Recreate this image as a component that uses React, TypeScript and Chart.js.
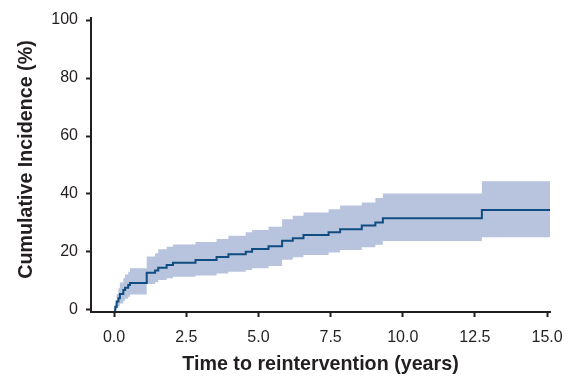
import React, { useEffect, useRef } from "react";
import { Chart, registerables } from "chart.js";

Chart.register(...registerables);

// Event times (years) and cumulative incidence (%) with 95% CI
const times = [0, 0.04, 0.09, 0.15, 0.2, 0.32, 0.38, 0.49, 0.55, 1.13, 1.42, 1.53, 1.82, 2.04, 2.82, 3.55, 3.96, 4.56, 4.78, 5.35, 5.82, 6.19, 6.56, 7.43, 7.83, 8.58, 9.05, 9.31, 12.74, 15.1];
const incidence = [0, 1.1, 2.9, 4.0, 5.5, 6.9, 7.7, 8.6, 9.3, 12.8, 13.6, 14.6, 15.5, 16.3, 17.2, 18.3, 19.2, 20.1, 21.0, 22.0, 23.9, 24.7, 25.9, 26.8, 27.8, 29.1, 30.2, 31.6, 34.5, 34.5];
const lowerCI = [0, 0.2, 0.8, 1.4, 2.2, 3.2, 3.9, 4.6, 5.3, 9.0, 9.6, 10.3, 10.9, 11.5, 11.9, 12.6, 13.2, 13.8, 14.4, 15.2, 17.3, 18.2, 19.0, 19.8, 20.7, 21.6, 22.5, 23.8, 25.1, 25.1];
const upperCI = [0, 2.5, 5.5, 7.5, 9.5, 11.0, 12.2, 13.2, 14.4, 18.4, 19.6, 20.9, 21.8, 22.6, 23.4, 24.5, 25.6, 26.8, 27.6, 28.7, 31.3, 32.5, 33.6, 34.7, 36.0, 37.1, 38.6, 40.2, 44.4, 44.4];

const xTicks = [0, 2.5, 5, 7.5, 10, 12.5, 15];
const yTicks = [0, 20, 40, 60, 80, 100];

const xTitle = "Time to reintervention (years)";
const yTitle = "Cumulative Incidence (%)";

const INK = "#231f20";
const LINE = "#0f4c81";
const BAND = "#b8c4dd";
const FONT = "'Liberation Sans', Arial, Helvetica, sans-serif";

// Step-function vertices: value holds until the next event time, then jumps.
function stepPoints(vals: number[]) {
  const out: { x: number; y: number }[] = [{ x: times[0], y: vals[0] }];
  for (let i = 1; i < times.length; i++) {
    out.push({ x: times[i], y: vals[i - 1] });
    out.push({ x: times[i], y: vals[i] });
  }
  return out;
}

export default function App() {
  const ref = useRef<HTMLCanvasElement | null>(null);

  useEffect(() => {
    if (!ref.current) return;
    const chart = new Chart(ref.current, {
      type: "line",
      data: {
        datasets: [
          {
            label: "Cumulative incidence",
            data: stepPoints(incidence),
            borderColor: LINE,
            borderWidth: 2,
            borderJoinStyle: "miter",
            pointRadius: 0,
            tension: 0,
            fill: false,
          },
          {
            label: "Upper CI",
            data: stepPoints(upperCI),
            borderWidth: 0,
            borderColor: "rgba(0,0,0,0)",
            backgroundColor: BAND,
            pointRadius: 0,
            tension: 0,
            fill: "+1",
          },
          {
            label: "Lower CI",
            data: stepPoints(lowerCI),
            borderWidth: 0,
            borderColor: "rgba(0,0,0,0)",
            pointRadius: 0,
            tension: 0,
            fill: false,
          },
        ],
      },
      options: {
        responsive: false,
        animation: false,
        layout: { padding: { top: 18, right: 27, left: 0, bottom: 0 } },
        plugins: {
          legend: { display: false },
          tooltip: { enabled: false },
        },
        scales: {
          x: {
            type: "linear",
            min: -0.8,
            max: 15.1,
            afterBuildTicks: (s: any) => {
              s.ticks = xTicks.map((v) => ({ value: v }));
            },
            afterFit: (s: any) => {
              s.height = 64;
            },
            grid: {
              display: true,
              drawOnChartArea: false,
              drawTicks: true,
              tickLength: 5,
              tickWidth: 2,
              color: INK,
            },
            border: { display: true, color: INK, width: 2 },
            ticks: {
              color: INK,
              padding: 11,
              maxRotation: 0,
              autoSkip: false,
              font: { family: FONT, size: 16 },
              callback: (v: any) => Number(v).toFixed(1),
            },
            title: {
              display: true,
              text: xTitle,
              color: INK,
              font: { family: FONT, size: 19.7, weight: "bold" },
              padding: { top: 0, bottom: 0 },
            },
          },
          y: {
            type: "linear",
            min: -0.7,
            max: 100.7,
            afterBuildTicks: (s: any) => {
              s.ticks = yTicks.map((v) => ({ value: v }));
            },
            afterFit: (s: any) => {
              s.width = 91;
            },
            grid: {
              display: true,
              drawOnChartArea: false,
              drawTicks: true,
              tickLength: 5,
              tickWidth: 2,
              color: INK,
            },
            border: { display: true, color: INK, width: 2 },
            ticks: {
              color: INK,
              padding: 8,
              autoSkip: false,
              font: { family: FONT, size: 16 },
              callback: (v: any) => String(v),
            },
            title: {
              display: true,
              text: "  " + yTitle,
              color: INK,
              font: { family: FONT, size: 19.7, weight: "bold" },
              padding: { top: 15, bottom: 0 },
            },
          },
        },
      },
    } as any);
    return () => chart.destroy();
  }, []);

  return (
    <div style={{ position: "absolute", left: 0, top: 0, width: 577, height: 376, background: "#fff" }}>
      <canvas ref={ref} width={577} height={376} style={{ display: "block" }} />
    </div>
  );
}
